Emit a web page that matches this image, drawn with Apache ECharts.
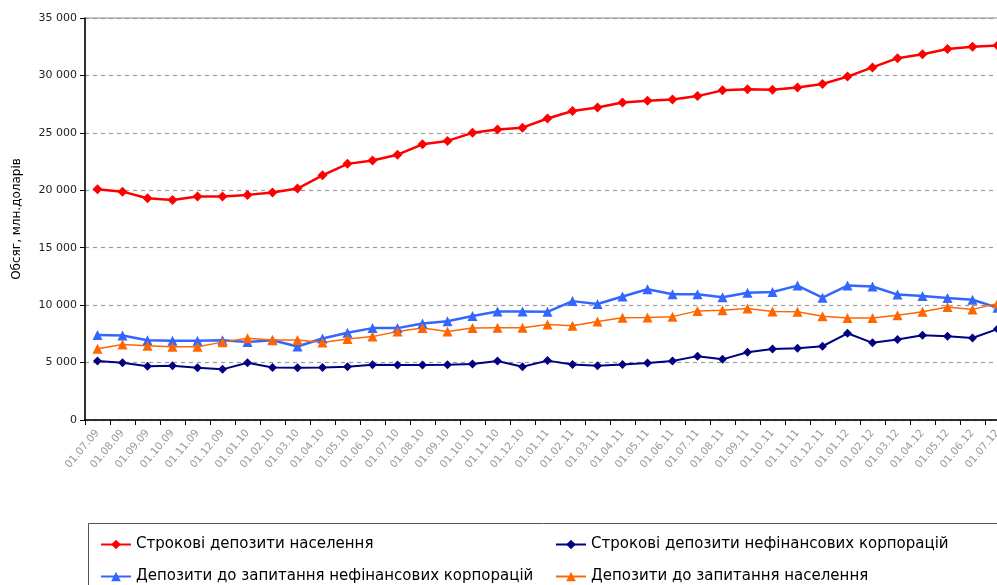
<!DOCTYPE html>
<html>
<head>
<meta charset="utf-8">
<script src="https://cdn.jsdelivr.net/npm/echarts@6/dist/echarts.min.js"></script>
<style>
  html, body { margin: 0; padding: 0; background: #fff; }
  #chart { width: 997px; height: 585px; }
</style>
</head>
<body>
<div id="chart"></div>
<script>
const categories = [
  '01.07.09', '01.08.09', '01.09.09', '01.10.09', '01.11.09', '01.12.09',
  '01.01.10', '01.02.10', '01.03.10', '01.04.10', '01.05.10', '01.06.10',
  '01.07.10', '01.08.10', '01.09.10', '01.10.10', '01.11.10', '01.12.10',
  '01.01.11', '01.02.11', '01.03.11', '01.04.11', '01.05.11', '01.06.11',
  '01.07.11', '01.08.11', '01.09.11', '01.10.11', '01.11.11', '01.12.11',
  '01.01.12', '01.02.12', '01.03.12', '01.04.12', '01.05.12', '01.06.12',
  '01.07.12',
]

const seriesNames = [
  'Строкові депозити населення',
  'Строкові депозити нефінансових корпорацій',
  'Депозити до запитання нефінансових корпорацій',
  'Депозити до запитання населення',
]

// Строкові депозити населення
const termHouseholds = [
  20100, 19880, 19300, 19150, 19450, 19450, 19600, 19800, 20150, 21300,
  22300, 22600, 23100, 24000, 24300, 25000, 25300, 25450, 26250, 26900,
  27200, 27650, 27800, 27900, 28200, 28700, 28800, 28750, 28950, 29250,
  29900, 30700, 31500, 31850, 32300, 32500, 32600,
]

// Строкові депозити нефінансових корпорацій
const termCorporations = [
  5130, 4980, 4670, 4730, 4540, 4410, 4980, 4580, 4540, 4580,
  4630, 4800, 4790, 4790, 4800, 4870, 5140, 4630, 5170, 4840,
  4720, 4840, 4960, 5140, 5560, 5280, 5900, 6180, 6250, 6420,
  7550, 6720, 7000, 7380, 7300, 7140, 7920,
]

// Депозити до запитання нефінансових корпорацій
const demandCorporations = [
  7400, 7350, 6950, 6900, 6900, 6950, 6800, 6950, 6400, 7100,
  7600, 8000, 8000, 8400, 8600, 9050, 9450, 9450, 9420, 10350,
  10100, 10750, 11380, 10950, 10950, 10680, 11080, 11150, 11700, 10650,
  11700, 11620, 10920, 10800, 10620, 10470, 9780,
]

// Депозити до запитання населення
const demandHouseholds = [
  6200, 6580, 6470, 6380, 6380, 6780, 7110, 6970, 6970, 6750,
  7050, 7260, 7700, 8000, 7700, 8000, 8030, 8030, 8310, 8200,
  8570, 8900, 8920, 9000, 9500, 9550, 9710, 9450, 9420, 9040,
  8870, 8890, 9130, 9420, 9840, 9630, 10140,
]

const yTicks = { min: 0, max: 35000, interval: 5000 }

const chart = echarts.init(document.getElementById('chart'))

const fmt = (v) => String(v).replace(/\B(?=(\d{3})+(?!\d))/g, ' ')
const font = 'DejaVu Sans, Verdana, sans-serif'

const legendText = { color: '#000', fontSize: 15, fontFamily: font }
const legendBase = { itemWidth: 30, itemHeight: 12, itemGap: 2, textStyle: legendText, padding: 0 }

chart.setOption({
  animation: false,
  // plot runs past the right edge of the picture, as in the original
  grid: {
    left: 85, width: 925, top: 18, height: 402,
    outerBoundsMode: 'none',
    show: true, borderColor: '#888', borderWidth: 1,
  },
  legend: [
    { ...legendBase, data: [seriesNames[0]], left: 100, top: 537 },
    { ...legendBase, data: [seriesNames[1]], left: 555, top: 537 },
    { ...legendBase, data: [seriesNames[2]], left: 100, top: 569 },
    { ...legendBase, data: [seriesNames[3]], left: 555, top: 569 },
  ],
  graphic: [
    {
      type: 'rect',
      shape: { x: 88.5, y: 523.5, width: 930, height: 90 },
      style: { fill: 'none', stroke: '#555', lineWidth: 1 },
    },
  ],
  xAxis: {
    type: 'category',
    data: categories,
    boundaryGap: true,
    axisLine: { lineStyle: { color: '#000', width: 1.5 } },
    axisTick: { show: true, length: 5, lineStyle: { color: '#000' } },
    axisLabel: {
      interval: 0,
      rotate: 50,
      color: '#999',
      fontSize: 10.5,
      fontFamily: font,
      margin: 11,
    },
  },
  yAxis: {
    type: 'value',
    ...yTicks,
    name: 'Обсяг, млн.доларів',
    nameLocation: 'middle',
    nameGap: 62,
    nameTextStyle: { color: '#000', fontSize: 12, fontFamily: font },
    axisLine: { show: true, lineStyle: { color: '#000', width: 1.5 } },
    axisTick: { show: true, length: 5, lineStyle: { color: '#000' } },
    axisLabel: {
      formatter: fmt,
      color: '#222',
      fontSize: 11,
      fontFamily: font,
      margin: 8,
    },
    splitLine: { lineStyle: { color: '#999', type: [4, 4], width: 1.2 } },
  },
  series: [
    {
      name: seriesNames[0],
      type: 'line',
      data: termHouseholds,
      symbol: 'diamond',
      symbolSize: 10,
      lineStyle: { color: '#ff0000', width: 2.5 },
      itemStyle: { color: '#ff0000' },
      z: 4,
    },
    {
      name: seriesNames[1],
      type: 'line',
      data: termCorporations,
      symbol: 'diamond',
      symbolSize: 9,
      lineStyle: { color: '#000080', width: 2 },
      itemStyle: { color: '#000080' },
      z: 3,
    },
    {
      name: seriesNames[2],
      type: 'line',
      data: demandCorporations,
      symbol: 'triangle',
      symbolSize: 10,
      lineStyle: { color: '#3366ff', width: 2.5 },
      itemStyle: { color: '#3366ff' },
      z: 2,
    },
    {
      name: seriesNames[3],
      type: 'line',
      data: demandHouseholds,
      symbol: 'triangle',
      symbolSize: 10,
      lineStyle: { color: '#ff6600', width: 1.5 },
      itemStyle: { color: '#ff6600' },
      z: 2,
    },
  ],
})
</script>
</body>
</html>
